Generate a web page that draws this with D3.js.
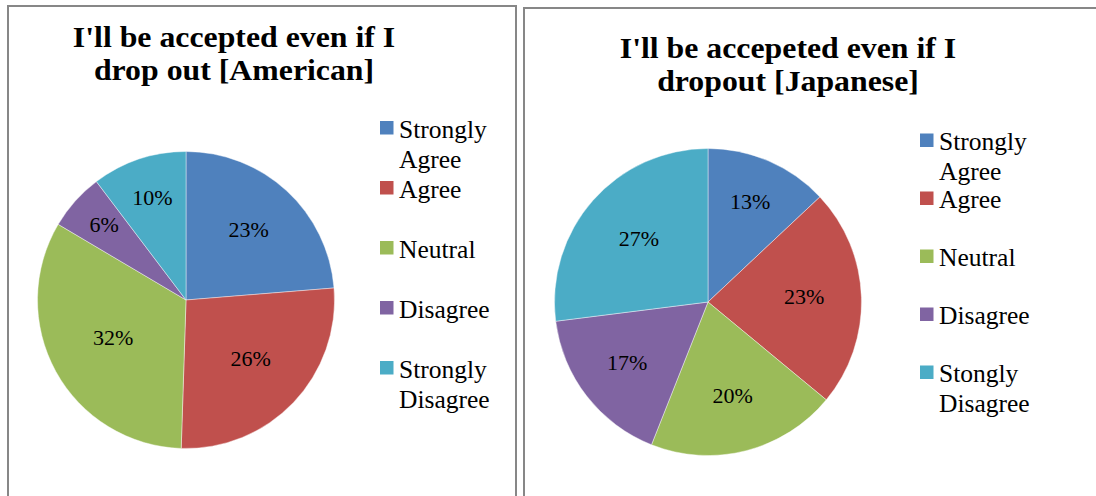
<!DOCTYPE html>
<html>
<head>
<meta charset="utf-8">
<script src="https://cdn.jsdelivr.net/npm/d3@7"></script>
<style>
  html, body { margin: 0; padding: 0; background: #fff; }
  svg { display: block; }
</style>
</head>
<body>
<svg id="chart" width="1096" height="496" font-family="'Liberation Serif', 'Times New Roman', Times, serif"></svg>
<script>
// Survey answers: share of respondents per response category
const categories = ["Strongly Agree", "Agree", "Neutral", "Disagree", "Strongly Disagree"];
const americanValues = [23, 26, 32, 6, 10];
const japaneseValues = [13, 23, 20, 17, 27];

const americanTitle = ["I'll be accepted even if I", "drop out [American]"];
const japaneseTitle = ["I'll be accepeted even if I", "dropout [Japanese]"];

const americanLegend = [["Strongly", "Agree"], ["Agree"], ["Neutral"], ["Disagree"], ["Strongly", "Disagree"]];
const japaneseLegend = [["Strongly", "Agree"], ["Agree"], ["Neutral"], ["Disagree"], ["Stongly", "Disagree"]];

const palette = ["#4F81BD", "#C0504D", "#9BBB59", "#8064A2", "#4BACC6"];

const svg = d3.select("#chart");
const color = d3.scaleOrdinal().domain(categories).range(palette);

const panels = [
  {
    values: americanValues, title: americanTitle, legend: americanLegend,
    frame: { x: 8, y: 6, w: 508 },
    titleX: 234, titleY: 47.5, titleStep: 33,
    cx: 186, cy: 300, r: 148.5,
    legendX: 399, legendY: 137.5, legendStep: 60
  },
  {
    values: japaneseValues, title: japaneseTitle, legend: japaneseLegend,
    frame: { x: 524, y: 8, w: 700 },
    titleX: 788, titleY: 58.5, titleStep: 32.5,
    cx: 708, cy: 302, r: 153.5,
    legendX: 939, legendY: 150, legendStep: 58
  }
];

const pie = d3.pie().sort(null).value(d => d);

panels.forEach(p => {
  // chart frame (runs past the bottom of the view)
  svg.append("rect")
    .attr("x", p.frame.x).attr("y", p.frame.y)
    .attr("width", p.frame.w).attr("height", 700)
    .attr("fill", "none").attr("stroke", "#878787").attr("stroke-width", 2);

  // title, set slightly wide
  const t = svg.append("text")
    .attr("transform", `translate(${p.titleX},0) scale(1.06,1)`)
    .attr("text-anchor", "middle")
    .attr("font-weight", "bold")
    .attr("font-size", 30);
  p.title.forEach((line, i) => {
    t.append("tspan").attr("x", 0).attr("y", p.titleY + i * p.titleStep).text(line);
  });

  const g = svg.append("g").attr("transform", `translate(${p.cx},${p.cy})`);
  const arcs = pie(p.values);
  const total = d3.sum(p.values);
  const arc = d3.arc().innerRadius(0).outerRadius(p.r);

  g.selectAll("path.slice")
    .data(arcs)
    .join("path")
    .attr("class", "slice")
    .attr("d", arc)
    .attr("fill", (d, i) => color(categories[i]))
    .attr("stroke", "#ffffff")
    .attr("stroke-width", 0.6)
    .attr("stroke-opacity", 0.7);

  // data labels: smaller slices get their label pushed further out
  g.selectAll("text.lbl")
    .data(arcs)
    .join("text")
    .attr("class", "lbl")
    .attr("font-size", 22)
    .attr("text-anchor", "middle")
    .attr("dy", "0.22em")
    .attr("transform", d => {
      const frac = d.value / total;
      const lr = p.r * (0.56 + 0.22 * Math.max(0, 1 - frac / 0.33));
      const c = d3.arc().innerRadius(lr).outerRadius(lr).centroid(d);
      return `translate(${c[0]},${c[1]})`;
    })
    .text(d => `${d.value}%`);

  // legend
  const lg = svg.append("g");
  p.legend.forEach((lines, i) => {
    const by = p.legendY + i * p.legendStep;
    lg.append("rect")
      .attr("x", p.legendX - 19).attr("y", by - 16.5)
      .attr("width", 13.5).attr("height", 13.5)
      .attr("fill", color(categories[i]));
    const tx = lg.append("text").attr("font-size", 25.5);
    lines.forEach((line, j) => {
      tx.append("tspan").attr("x", p.legendX).attr("y", by + j * 30).text(line);
    });
  });
});
</script>
</body>
</html>
